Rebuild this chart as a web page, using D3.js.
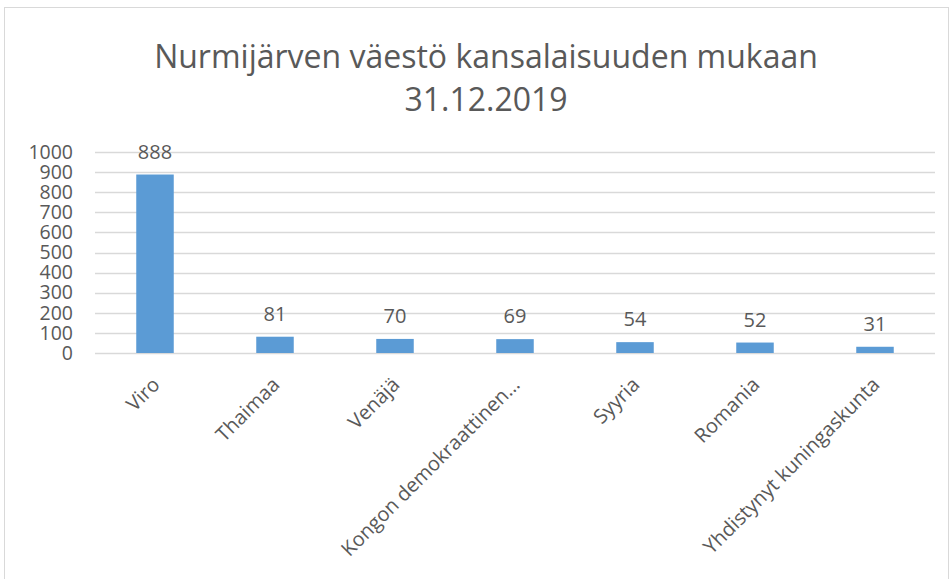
<!DOCTYPE html>
<html>
<head>
<meta charset="utf-8">
<script src="https://cdn.jsdelivr.net/npm/d3@7"></script>
<style>
  body { margin: 0; background: #fff; }
  text { font-family: "Open Sans", "Noto Sans", sans-serif; fill: #595959; }
</style>
</head>
<body>
<div id="chart"></div>
<script>
// data
var titleLines = ["Nurmijärven väestö kansalaisuuden mukaan", "31.12.2019"];
var countries = ["Viro", "Thaimaa", "Venäjä", "Kongon demokraattinen…", "Syyria", "Romania", "Yhdistynyt kuningaskunta"];
var counts = [888, 81, 70, 69, 54, 52, 31];
var yTicks = [0, 100, 200, 300, 400, 500, 600, 700, 800, 900, 1000];

var width = 952, height = 579;
var plotLeft = 95, plotRight = 935, plotTop = 152, plotBottom = 353;

var svg = d3.select("#chart").append("svg")
    .attr("width", width)
    .attr("height", height);

// chart frame
svg.append("rect")
    .attr("x", 4.5).attr("y", 7.5)
    .attr("width", 944).attr("height", 600)
    .attr("fill", "#fff")
    .attr("stroke", "#d9d9d9");

// title
svg.append("g").selectAll("text")
    .data(titleLines)
    .enter().append("text")
    .attr("x", 486)
    .attr("y", function(d, i) { return 68 + i * 43; })
    .attr("text-anchor", "middle")
    .style("font-size", "32px")
    .text(function(d) { return d; });

var x = d3.scaleBand()
    .domain(countries)
    .range([plotLeft, plotRight])
    .paddingInner(0.6875)
    .paddingOuter(0.34375);

var y = d3.scaleLinear()
    .domain([0, 1000])
    .range([plotBottom, plotTop]);

// gridlines
svg.append("g").selectAll("line")
    .data(yTicks)
    .enter().append("line")
    .attr("x1", plotLeft).attr("x2", plotRight)
    .attr("y1", function(d) { return Math.round(y(d)) + 0.5; })
    .attr("y2", function(d) { return Math.round(y(d)) + 0.5; })
    .attr("stroke", "#d9d9d9")
    .attr("stroke-width", 1.5);

// y axis labels
var yAxis = svg.append("g")
    .attr("transform", "translate(" + (plotLeft - 22) + ",0)")
    .call(d3.axisLeft(y).tickValues(yTicks).tickFormat(d3.format("d")).tickSize(0).tickPadding(0));
yAxis.select(".domain").remove();
yAxis.selectAll("text")
    .style("font-size", "19.5px")
    .style("font-family", "\"Open Sans\", sans-serif")
    .attr("fill", "#595959");

// bars
svg.append("g").selectAll("rect")
    .data(counts)
    .enter().append("rect")
    .attr("x", function(d, i) { return x(countries[i]); })
    .attr("y", function(d) { return y(d); })
    .attr("width", x.bandwidth())
    .attr("height", function(d) { return y(0) - y(d); })
    .attr("fill", "#5b9bd5");

// value labels
svg.append("g").selectAll("text")
    .data(counts)
    .enter().append("text")
    .attr("x", function(d, i) { return x(countries[i]) + x.bandwidth() / 2; })
    .attr("y", function(d) { return y(d) - 16; })
    .attr("text-anchor", "middle")
    .style("font-size", "20px")
    .text(function(d) { return d; });

// x axis labels
svg.append("g").selectAll("text")
    .data(countries)
    .enter().append("text")
    .attr("transform", function(d) {
        var cx = x(d) + x.bandwidth() / 2 + 1;
        return "translate(" + cx + "," + (plotBottom + 28) + ") rotate(-45)";
    })
    .attr("text-anchor", "end")
    .attr("dy", "0.35em")
    .style("font-size", "20px")
    .text(function(d) { return d; });
</script>
</body>
</html>
